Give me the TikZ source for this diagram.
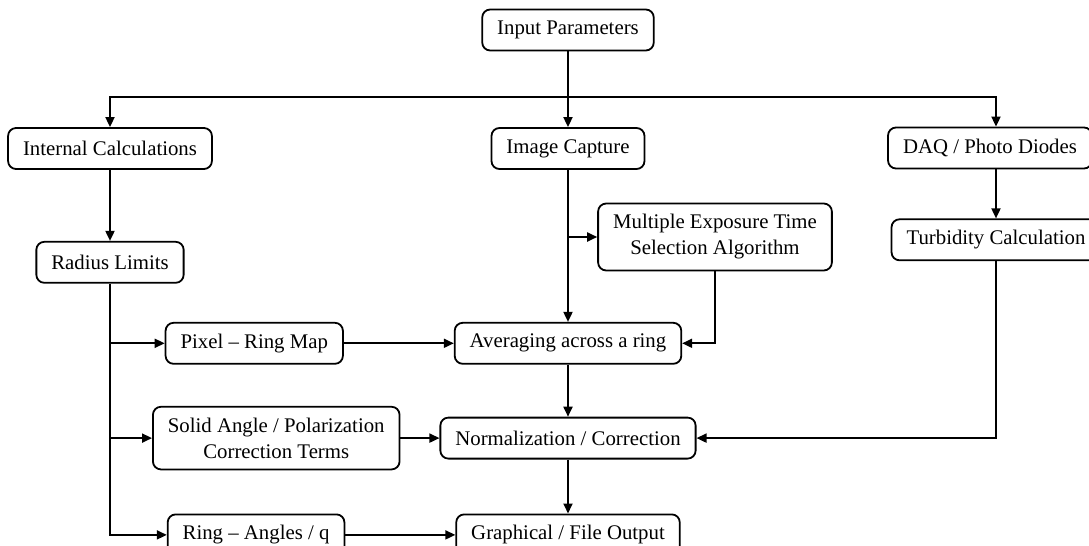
\documentclass[tikz,border=0pt]{standalone}
\usepackage{fontspec}
\setmainfont{Liberation Serif}
\usetikzlibrary{arrows.meta, positioning}

\begin{document}
\begin{tikzpicture}[
    x=0.5pt, y=-0.5pt,
    font=\fontsize{10.4pt}{13pt}\selectfont,
    box/.style={draw, line width=0.9pt, rounded corners=4pt, align=center, inner xsep=7.5pt, inner ysep=5.5pt, minimum height=20.5pt},
    arrow/.style={-{Triangle[length=5pt, width=4.5pt]}, line width=0.9pt},
    wire/.style={line width=0.9pt}
]
\useasboundingbox (0,0) rectangle (1089,546);

    % Top level
    \node[box] (inp) at (568,30) {Input Parameters};
    \node[box] (intc) at (110,148.5) {Internal Calculations};
    \node[box] (imgc) at (568,148.5) {Image Capture};
    \node[box] (daq) at (990,148) {DAQ / Photo Diodes};
    \coordinate (bus) at (568,97);

    % Left branch
    \node[box, below=35.5pt of intc] (rad) {Radius Limits};

    % Middle column
    \node[box, below=76pt of imgc] (avg) {Averaging across a ring};
    \node[box, below=26pt of avg] (norm) {Normalization / Correction};
    \node[box, below=27pt of norm] (graph) {Graphical / File Output};
    \node[box] (mult) at (715,237) {Multiple Exposure Time\\ Selection Algorithm};

    % Derived quantities
    \node[box, left=55pt of avg] (pix) {Pixel -- Ring Map};
    \node[box, left=19.5pt of norm] (solid) {Solid Angle / Polarization\\ Correction Terms};
    \node[box, left=55pt of graph] (ring) {Ring -- Angles / q};

    % Right branch
    \node[box, below=24.5pt of daq, xshift=3pt] (turb) {Turbidity Calculation};

    % Connections
    \draw[arrow] (inp) -- (imgc);
    \draw[arrow] (bus) -| (intc);
    \draw[arrow] (bus) -| (turb |- daq.north);
    \draw[arrow] (intc) -- (rad);
    \draw[arrow] (rad) |- (ring);
    \draw[arrow] (rad |- pix) -- (pix);
    \draw[arrow] (rad |- solid) -- (solid);
    \draw[arrow] (pix) -- (avg);
    \draw[arrow] (solid) -- (norm);
    \draw[arrow] (ring) -- (graph);
    \draw[arrow] (imgc) -- (avg);
    \draw[arrow] (imgc |- mult) -- (mult);
    \draw[arrow] (mult) |- (avg);
    \draw[arrow] (avg) -- (norm);
    \draw[arrow] (norm) -- (graph);
    \draw[arrow] (turb |- daq.south) -- (turb);
    \draw[arrow] (turb) |- (norm);

\end{tikzpicture}
\end{document}
